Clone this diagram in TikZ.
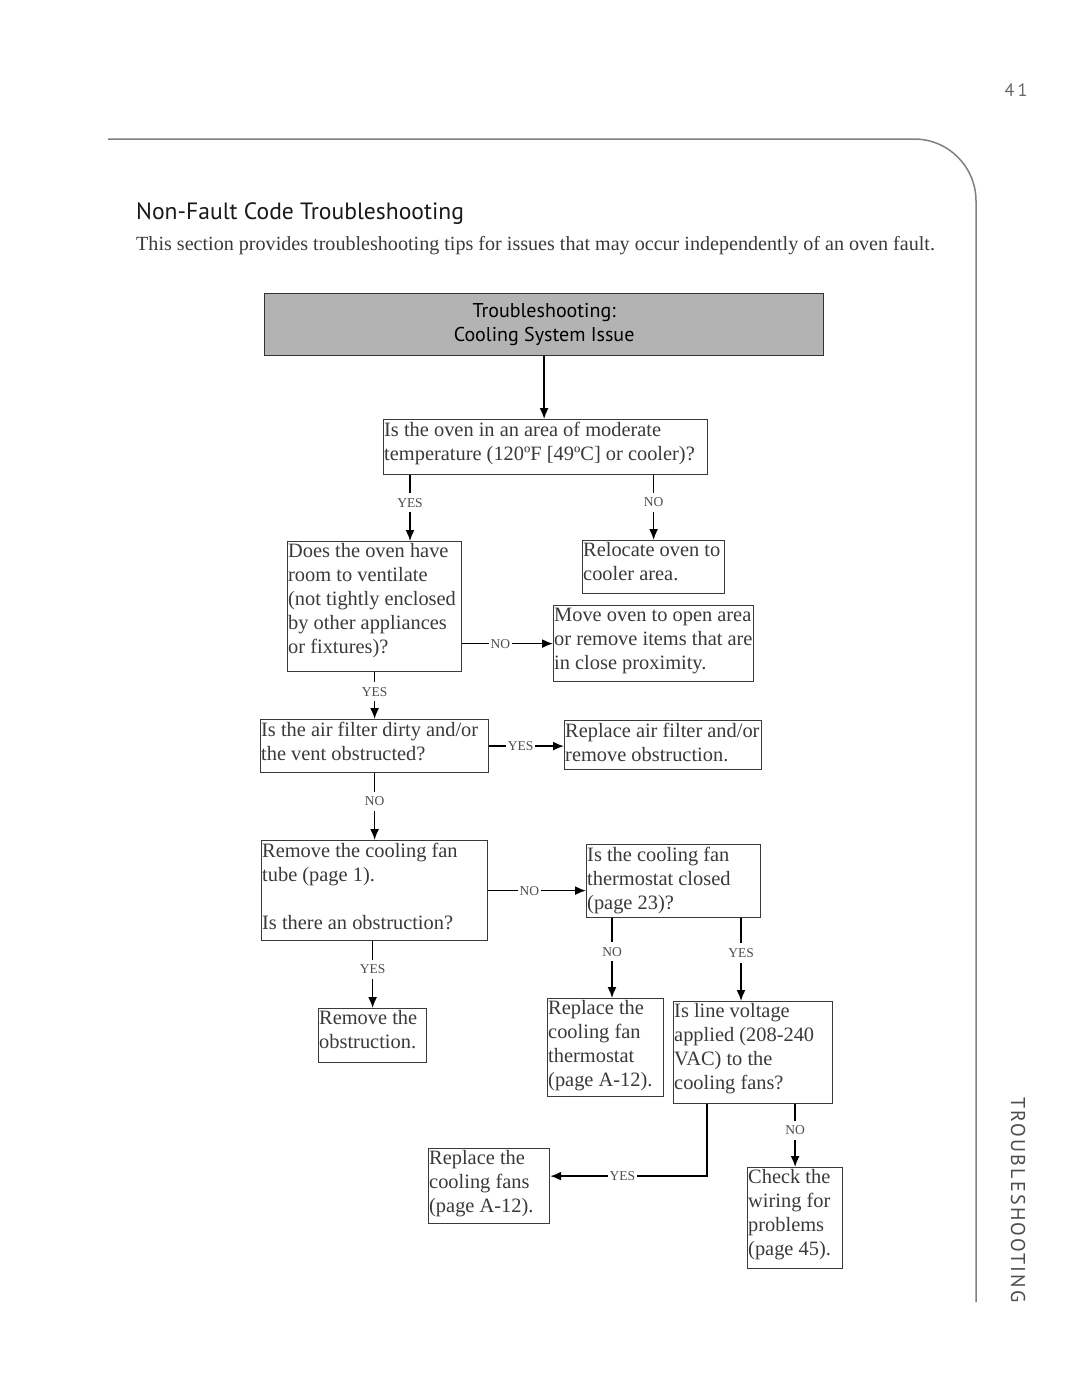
\documentclass[tikz,border=0pt]{standalone}
\usepackage{fontspec}
\setmainfont{Liberation Serif}
\newfontfamily\sansf{PT Sans}
\usetikzlibrary{arrows.meta}
\definecolor{boxfill}{HTML}{B3B3B3}
\definecolor{rulegray}{HTML}{808080}
\definecolor{inkgray}{HTML}{3A3A3A}
\definecolor{lblgray}{HTML}{4D4D4D}
\begin{document}
\begin{tikzpicture}[x=1pt,y=-1pt,
  box/.style={draw=inkgray,line width=1.2pt,anchor=north west,inner sep=0pt},
  txt/.style={anchor=north west,inner xsep=1pt,inner ysep=2.5pt,align=left,text=inkgray,
    font=\fontsize{20.4}{24}\selectfont},
  lbl/.style={fill=white,inner xsep=2pt,inner ysep=5pt,pos=0.42,text=lblgray,
    font=\fontsize{13.5}{14}\selectfont},
  conn/.style={line width=1.6pt,-{Latex[length=11pt,width=9pt]}}]
\useasboundingbox (0,0) rectangle (1080,1397);
\fill[white] (0,0) rectangle (1080,1397);

% page frame
\draw[rulegray,line width=1.5pt,rounded corners=62pt] (108,139) -- (976,139) -- (976,1302);
\node[text=rulegray!80!black,font=\sansf\fontsize{18}{20}\selectfont] (pagenum) at (1016,90) {4\,1};
\node[rotate=-90,text=lblgray,font=\sansf\fontsize{20}{20}\selectfont\addfontfeature{LetterSpace=11}] (side) at (1018,1200) {TROUBLESHOOTING};
\node[anchor=base west,inner sep=0pt,text=black!90,font=\sansf\fontsize{23.6}{26}\selectfont] (title) at (136,219) {Non-Fault Code Troubleshooting};
\node[anchor=base west,inner sep=0pt,text=inkgray,font=\fontsize{20.1}{24}\selectfont] (intro) at (136,250) {This section provides troubleshooting tips for issues that may occur independently of an oven fault.};

% boxes
\node[box,fill=boxfill,draw=black!80,align=center,text=black,font=\sansf\fontsize{20}{24}\selectfont,
  minimum width=559pt,minimum height=62pt] (hdr) at (264,293) {Troubleshooting:\\Cooling System Issue};
\node[box,minimum width=324pt,minimum height=55pt,
  label={[txt]north west:Is the oven in an area of moderate\\temperature (120ºF [49ºC] or cooler)?}] (q1) at (383,419) {};
\node[box,minimum width=174pt,minimum height=130pt,
  label={[txt]north west:Does the oven have\\room to ventilate\\(not tightly enclosed\\by other appliances\\or fixtures)?}] (q2) at (287,541) {};
\node[box,minimum width=142pt,minimum height=53pt,
  label={[txt]north west:Relocate oven to\\cooler area.}] (reloc) at (582,540) {};
\node[box,minimum width=200pt,minimum height=76pt,
  label={[txt]north west:Move oven to open area\\or remove items that are\\in close proximity.}] (move) at (553,605) {};
\node[box,minimum width=228pt,minimum height=53pt,
  label={[txt]north west:Is the air filter dirty and/or\\the vent obstructed?}] (q3) at (260,719) {};
\node[box,minimum width=197pt,minimum height=49pt,
  label={[txt]north west:Replace air filter and/or\\remove obstruction.}] (filter) at (564,720) {};
\node[box,minimum width=226pt,minimum height=100pt,
  label={[txt]north west:Remove the cooling fan\\tube (page 1).\\[24pt]Is there an obstruction?}] (q4) at (261,840) {};
\node[box,minimum width=174pt,minimum height=73pt,
  label={[txt]north west:Is the cooling fan\\thermostat closed\\(page 23)?}] (q5) at (586,844) {};
\node[box,minimum width=108pt,minimum height=54pt,
  label={[txt]north west:Remove the\\obstruction.}] (remove) at (318,1008) {};
\node[box,minimum width=116pt,minimum height=98pt,
  label={[txt]north west:Replace the\\cooling fan\\thermostat\\(page A-12).}] (thermo) at (547,998) {};
\node[box,minimum width=159pt,minimum height=102pt,
  label={[txt]north west:Is line voltage\\applied (208-240\\VAC) to the\\cooling fans?}] (q6) at (673,1001) {};
\node[box,minimum width=121pt,minimum height=75pt,
  label={[txt]north west:Replace the\\cooling fans\\(page A-12).}] (fans) at (428,1148) {};
\node[box,minimum width=95pt,minimum height=101pt,
  label={[txt]north west:Check the\\wiring for\\problems\\(page 45).}] (check) at (747,1167) {};

% connectors
\draw[conn] (hdr.south) -- (hdr.south |- q1.north);
\draw[conn] (q1.south -| 410,0) -- node[lbl] {YES} (q2.north -| 410,0);
\draw[conn] (reloc.north |- q1.south) -- node[lbl] {NO} (reloc.north);
\draw[conn] (q2.east |- move.west) -- node[lbl] {NO} (move.west);
\draw[conn] (q2.south) -- node[lbl] {YES} (q3.north);
\draw[conn] (q3.east) -- node[lbl] {YES} (q3.east -| filter.west);
\draw[conn] (q3.south) -- node[lbl] {NO} (q4.north);
\draw[conn] (q4.east) -- node[lbl] {NO} (q4.east -| q5.west);
\draw[conn] (remove.north |- q4.south) -- node[lbl] {YES} (remove.north);
\draw[conn] (q5.south -| 612,0) -- node[lbl] {NO} (thermo.north -| 612,0);
\draw[conn] (q5.south -| 741,0) -- node[lbl] {YES} (q6.north -| 741,0);
\draw[conn] (q6.south -| 707,0) |- node[lbl,pos=0.77] {YES} ([yshift=10pt]fans.east);
\draw[conn] (check.north |- q6.south) -- node[lbl] {NO} (check.north);
\end{tikzpicture}
\end{document}
